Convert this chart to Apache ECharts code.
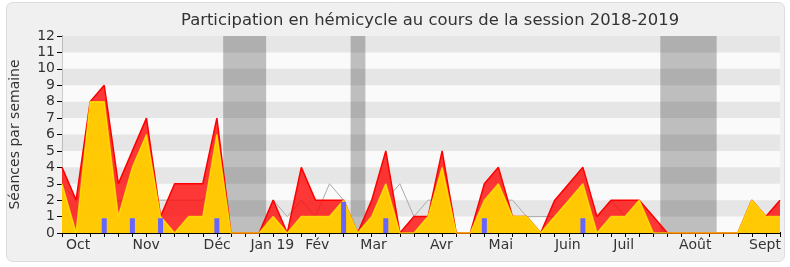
<!DOCTYPE html>
<html>
<head>
<meta charset="utf-8">
<script src="https://cdn.jsdelivr.net/npm/echarts@6/dist/echarts.min.js"></script>
<style>
  html, body { margin: 0; padding: 0; background: #ffffff; }
  #chart { width: 790px; height: 267px; }
</style>
</head>
<body>
<div id="chart"></div>
<script>
// semaines de la session (index 0 = début octobre 2018)
var weeks = [];
for (var w = 0; w < 52; w++) { weeks.push(w); }

// présences totales par semaine (zone rouge)
var presences = [4, 2, 8, 9, 3, 5, 7, 1, 3, 3, 3, 7, 0, 0, 0, 2, 0, 4, 2, 2,
                 2, 0, 2, 5, 0, 1, 1, 5, 0, 0, 3, 4, 1, 1, 0, 2, 3, 4, 1, 2,
                 2, 2, 1, 0, 0, 0, 0, 0, 0, 2, 1, 2];
// présences en hémicycle (zone jaune)
var hemicycle = [3, 0, 8, 8, 1, 4, 6, 1, 0, 1, 1, 6, 0, 0, 0, 1, 0, 1, 1, 1,
                 2, 0, 1, 3, 0, 0, 1, 4, 0, 0, 2, 3, 1, 1, 0, 1, 2, 3, 0, 1,
                 1, 2, 0, 0, 0, 0, 0, 0, 0, 2, 1, 1];
// médiane des députés (ligne grise)
var mediane = [3, 2, 3, 2, 2, 2, 2, 2, 2, 2, 2, 3, 0, 0, 0, 2, 1, 2, 1, 3,
               2, 0, 1, 2, 3, 1, 2, 2, 0, 0, 1, 2, 2, 1, 1, 1, 1, 2, 1, 2,
               1, 2, 0, 0, 0, 0, 0, 0, 0, 1, 1, 1];
// questions orales (barres bleues)
var questionWeeks = [3, 5, 7, 11, 20, 23, 30, 37];
var questionValues = [0.9, 0.9, 0.9, 0.9, 1.9, 0.9, 0.9, 0.9];

// vacances parlementaires (en semaines)
var vacances = [[11.45, 14.5], [20.5, 21.55], [42.5, 46.5]];

// libellés des mois
var monthPos = [1.15, 5.98, 11.02, 14.94, 18.13, 22.13, 26.95, 31.17, 35.93, 39.9, 44.98, 49.93];
var monthNames = ['Oct', 'Nov', 'Déc', 'Jan 19', 'Fév', 'Mar', 'Avr', 'Mai', 'Juin', 'Juil', 'Août', 'Sept'];

var yTicks = [0, 1, 2, 3, 4, 5, 6, 7, 8, 9, 10, 11, 12];

function pairs(vals) {
    return weeks.map(function (w, i) { return [w, vals[i]]; });
}

var rowBands = [];
for (var r = 1; r < 12; r += 2) {
    rowBands.push([{ yAxis: r }, { yAxis: r + 1 }]);
}
var vacBands = vacances.map(function (v) {
    return [{ xAxis: v[0] }, { xAxis: v[1] }];
});

var chart = echarts.init(document.getElementById('chart'));
var font = 'DejaVu Sans';

var option = {
    animation: false,
    textStyle: { fontFamily: font },
    graphic: [{
        type: 'rect',
        z: -10,
        shape: { x: 6.5, y: 2.5, width: 778, height: 259, r: 6 },
        style: { fill: '#f0f0f0', stroke: '#dcdcdc', lineWidth: 1 }
    }],
    title: {
        text: 'Participation en hémicycle au cours de la session 2018-2019',
        left: 176,
        top: 8,
        textStyle: { fontFamily: font, fontSize: 16.4, fontWeight: 'normal', color: '#333333' }
    },
    grid: {
        left: 61, right: 10, top: 36, bottom: 34,
        show: true, backgroundColor: '#fafafa', borderWidth: 0
    },
    xAxis: [{
        type: 'value',
        min: 0, max: 51,
        position: 'bottom',
        axisLine: { lineStyle: { color: '#000000', width: 1 } },
        axisTick: {
            customValues: weeks,
            length: 4,
            lineStyle: { color: '#000000' }
        },
        axisLabel: {
            customValues: monthPos,
            margin: 5,
            fontSize: 14,
            color: '#333333',
            fontFamily: font,
            formatter: function (v) {
                var best = 0;
                for (var i = 1; i < monthPos.length; i++) {
                    if (Math.abs(monthPos[i] - v) < Math.abs(monthPos[best] - v)) { best = i; }
                }
                return monthNames[best];
            }
        },
        splitLine: { show: false }
    }, {
        type: 'value',
        min: 0, max: 51,
        position: 'top',
        axisLine: { show: false },
        axisTick: {
            customValues: weeks,
            length: 1,
            lineStyle: { color: '#000000' }
        },
        axisLabel: { show: false },
        splitLine: { show: false }
    }],
    yAxis: [{
        type: 'value',
        min: 0, max: 12, interval: 1,
        name: 'Séances par semaine',
        nameLocation: 'middle',
        nameGap: 40,
        nameTextStyle: { fontFamily: font, fontSize: 14, color: '#333333' },
        axisLine: { show: true, lineStyle: { color: '#000000', width: 1 } },
        axisTick: { show: true, length: 5, lineStyle: { color: '#000000' } },
        axisLabel: {
            fontSize: 14, color: '#333333', margin: 7, fontFamily: font,
            formatter: function (v) { return yTicks.indexOf(v) >= 0 ? String(v) : ''; }
        },
        splitLine: { show: false }
    }, {
        type: 'value',
        min: 0, max: 12, interval: 1,
        position: 'right',
        axisLine: { show: true, lineStyle: { color: '#cccccc', width: 1 } },
        axisTick: { show: false },
        axisLabel: { show: false },
        splitLine: { show: false }
    }],
    series: [{
        // vacances
        type: 'line',
        z: 0,
        silent: true,
        data: pairs(hemicycle),
        showSymbol: false,
        lineStyle: { opacity: 0, width: 0 },
        markArea: {
            silent: true,
            itemStyle: { color: '#bebebe' },
            data: vacBands
        }
    }, {
        // bandes horizontales
        type: 'line',
        z: 1,
        silent: true,
        data: pairs(hemicycle),
        showSymbol: false,
        lineStyle: { opacity: 0, width: 0 },
        markArea: {
            silent: true,
            itemStyle: { color: 'rgba(0,0,0,0.08)' },
            data: rowBands
        }
    }, {
        name: 'Médiane',
        type: 'line',
        z: 2,
        data: pairs(mediane),
        showSymbol: false,
        lineStyle: { color: '#aaaaaa', width: 1 }
    }, {
        name: 'Présences',
        type: 'line',
        z: 3,
        data: pairs(presences),
        showSymbol: false,
        lineStyle: { color: '#ff0000', width: 1.5 },
        areaStyle: { color: '#ff0000', opacity: 0.78 }
    }, {
        name: 'Hémicycle',
        type: 'line',
        z: 4,
        data: pairs(hemicycle),
        showSymbol: false,
        lineStyle: { color: 'rgba(255,238,0,0.75)', width: 1.5 },
        areaStyle: { color: '#ffd400', opacity: 0.93 }
    }, {
        name: 'Questions',
        type: 'bar',
        z: 5,
        barWidth: 5,
        data: questionWeeks.map(function (w, i) { return [w, questionValues[i]]; }),
        itemStyle: { color: '#6666ff' }
    }]
};

chart.setOption(option);
</script>
</body>
</html>
